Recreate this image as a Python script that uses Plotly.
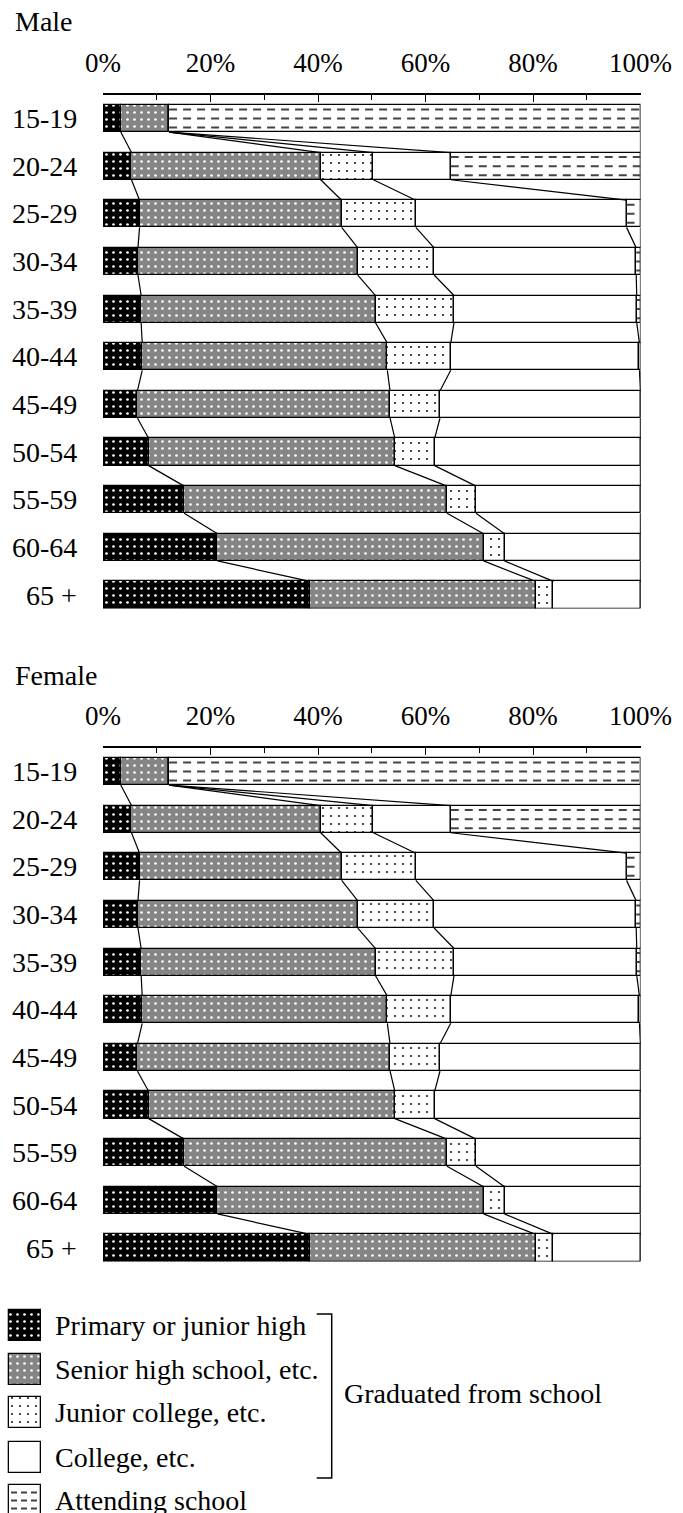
import plotly.graph_objects as go

# ---------------- data (percent of population by highest schooling) -------------
ages = ["15-19", "20-24", "25-29", "30-34", "35-39", "40-44",
        "45-49", "50-54", "55-59", "60-64", "65 +"]
pct_ticks = [0, 20, 40, 60, 80, 100]
pct_labels = ["0%", "20%", "40%", "60%", "80%", "100%"]
categories = ["Primary or junior high", "Senior high school, etc.",
              "Junior college, etc.", "College, etc.", "Attending school"]
bracket_label = "Graduated from school"

male_primary = [3.3, 5.3, 6.8, 6.5, 7.1, 7.3, 6.4, 8.5, 15.1, 21.3, 38.5]
male_senior = [9.0, 35.2, 37.6, 40.9, 43.6, 45.6, 47.0, 45.8, 48.9, 49.5, 42.0]
male_junior = [0.0, 9.8, 13.8, 14.2, 14.6, 11.8, 9.3, 7.4, 5.4, 3.9, 3.3]
male_college = [0.0, 14.4, 39.2, 37.6, 34.0, 35.1, 37.3, 38.3, 30.6, 25.3, 16.2]
male_attending = [87.7, 35.3, 2.6, 0.8, 0.7, 0.2, 0.0, 0.0, 0.0, 0.0, 0.0]

female_primary = [3.3, 5.3, 6.8, 6.5, 7.1, 7.3, 6.4, 8.5, 15.1, 21.3, 38.5]
female_senior = [9.0, 35.2, 37.6, 40.9, 43.6, 45.6, 47.0, 45.8, 48.9, 49.5, 42.0]
female_junior = [0.0, 9.8, 13.8, 14.2, 14.6, 11.8, 9.3, 7.4, 5.4, 3.9, 3.3]
female_college = [0.0, 14.4, 39.2, 37.6, 34.0, 35.1, 37.3, 38.3, 30.6, 25.3, 16.2]
female_attending = [87.7, 35.3, 2.6, 0.8, 0.7, 0.2, 0.0, 0.0, 0.0, 0.0, 0.0]

# ---------------- styling ------------------------------------------------------
W, H = 683, 1513
FONT = "Liberation Serif, Times New Roman, serif"
GRAY = "#858585"
STYLES = [
    dict(color="black", pattern=dict(shape=".", bgcolor="black", fgcolor="white",
                                     size=7, solidity=0.12)),
    dict(color=GRAY, pattern=dict(shape=".", bgcolor=GRAY, fgcolor="white",
                                  size=7, solidity=0.12)),
    dict(color="white", pattern=dict(shape=".", bgcolor="white", fgcolor="#222222",
                                     size=8, solidity=0.06)),
    dict(color="white"),
    dict(color="white"),
]
OUTLINE = dict(color="black", width=1.3)
DASH_COLOR = "#444444"
DASH = "8px,6px"
BAR_W = 0.57
HW = BAR_W / 2

fig = go.Figure()
annotations = []
n = len(ages)
rows = list(range(n))


def add_chart(series, xa, ya, off, title):
    # cumulative boundaries
    bases = []
    cum = [0.0] * n
    for s in series:
        bases.append(cum[:])
        cum = [c + v for c, v in zip(cum, s)]
    for k, s in enumerate(series):
        fig.add_trace(go.Bar(
            x=s, base=bases[k], y=rows, orientation="h", width=BAR_W,
            marker=dict(line=OUTLINE, **STYLES[k]),
            xaxis=xa, yaxis=ya, showlegend=False, hoverinfo="skip"))
    # dashed marks for "attending school"
    att_start = bases[4]
    att = series[4]
    for off_y in (-0.19, 0.0, 0.19):
        xs, ys = [], []
        for i in rows:
            if att[i] > 0.5:
                xs += [att_start[i], att_start[i] + att[i], None]
                ys += [i + off_y, i + off_y, None]
        fig.add_trace(go.Scatter(x=xs, y=ys, mode="lines",
                                 line=dict(color=DASH_COLOR, width=2, dash=DASH),
                                 xaxis=xa, yaxis=ya, showlegend=False,
                                 hoverinfo="skip"))
    # connector lines between consecutive bars
    xs, ys = [], []
    for k in range(1, 5):
        b = bases[k]
        for i in range(n - 1):
            xs += [b[i], b[i + 1], None]
            ys += [i + HW, i + 1 - HW, None]
    for i in range(n - 1):
        xs += [cum[i], cum[i + 1], None]
        ys += [i + HW, i + 1 - HW, None]
    fig.add_trace(go.Scatter(x=xs, y=ys, mode="lines",
                             line=dict(color="black", width=1.2),
                             xaxis=xa, yaxis=ya, showlegend=False,
                             hoverinfo="skip", cliponaxis=False))

    axis_top = 95 + off
    row0 = 118.5 + off
    step = 47.65
    bottom = row0 + (n - 1) * step + 13.5
    yrange = [(bottom - row0) / step, -(row0 - axis_top) / step]
    ydom = [1 - bottom / H, 1 - axis_top / H]
    xkey = "xaxis" if xa == "x" else "xaxis" + xa[1:]
    ykey = "yaxis" if ya == "y" else "yaxis" + ya[1:]
    fig.update_layout(**{
        xkey: dict(domain=[103 / W, 640.5 / W], range=[0, 100], side="top",
                   anchor=ya, tickmode="array", tickvals=pct_ticks,
                   ticktext=pct_labels, ticks="inside", ticklen=7,
                   tickwidth=1.3, tickcolor="black", showline=True,
                   linewidth=2, linecolor="black", showgrid=False,
                   zeroline=False, ticklabelstandoff=10, automargin=False,
                   tickfont=dict(family=FONT, size=27, color="black"),
                   minor=dict(tickvals=[10, 30, 50, 70, 90], ticks="inside",
                              ticklen=5, tickwidth=1.2, tickcolor="black",
                              showgrid=False)),
        ykey: dict(domain=ydom, range=yrange, anchor=xa, visible=False,
                   automargin=False),
    })
    for i, a in enumerate(ages):
        annotations.append(dict(x=79 / W, xref="paper", y=i, yref=ya, text=a,
                                showarrow=False, xanchor="right",
                                font=dict(family=FONT, size=28, color="black")))
    annotations.append(dict(x=13 / W, xref="paper", y=1 - (22 + off) / H,
                            yref="paper", text=title, showarrow=False,
                            xanchor="left", yanchor="middle",
                            font=dict(family=FONT, size=28, color="black")))


add_chart([male_primary, male_senior, male_junior, male_college, male_attending],
          "x", "y", 0, "Male")
add_chart([female_primary, female_senior, female_junior, female_college,
           female_attending], "x2", "y2", 653, "Female")

# ---------------- legend (drawn in a pixel-scaled helper axis) ------------------
leg_centers = [1325.5, 1369.5, 1412.5, 1457.5, 1500.5]
for k, c in enumerate(categories):
    fig.add_trace(go.Bar(
        x=[31.4], base=[9.3], y=[leg_centers[k]], orientation="h", width=[31],
        marker=dict(line=OUTLINE, **STYLES[k]), xaxis="x3", yaxis="y3",
        showlegend=False, hoverinfo="skip"))
    annotations.append(dict(x=53, xref="x3", y=leg_centers[k], yref="y3", text=c,
                            showarrow=False, xanchor="left", yanchor="middle",
                            font=dict(family=FONT, size=28, color="black")))
for dy in (-8, 0, 8):
    fig.add_trace(go.Scatter(x=[11, 39], y=[leg_centers[4] + dy] * 2, mode="lines",
                             line=dict(color=DASH_COLOR, width=2, dash="6px,4px"),
                             xaxis="x3", yaxis="y3", showlegend=False,
                             hoverinfo="skip"))
annotations.append(dict(x=341.7, xref="x3", y=1393, yref="y3", text=bracket_label,
                        showarrow=False, xanchor="left", yanchor="middle",
                        font=dict(family=FONT, size=28, color="black")))

fig.update_layout(
    template="none",
    width=W, height=H, margin=dict(l=0, r=0, t=0, b=0, autoexpand=False),
    paper_bgcolor="white", plot_bgcolor="rgba(0,0,0,0)",
    barmode="overlay", bargap=0,
    xaxis3=dict(domain=[0, 1], range=[0, W], visible=False, anchor="y3",
                automargin=False),
    yaxis3=dict(domain=[0, (H - 1290) / H], range=[H, 1290], visible=False,
                anchor="x3", automargin=False),
    annotations=annotations,
    shapes=[dict(type="path", xref="x3", yref="y3",
                 path="M 316.7 1314 L 331.7 1314 L 331.7 1478 L 316.7 1478",
                 line=dict(color="black", width=1.5))],
    showlegend=False,
)

fig.write_html("out.html", config={"displayModeBar": False},
               post_script="document.body.style.margin='0px';")
